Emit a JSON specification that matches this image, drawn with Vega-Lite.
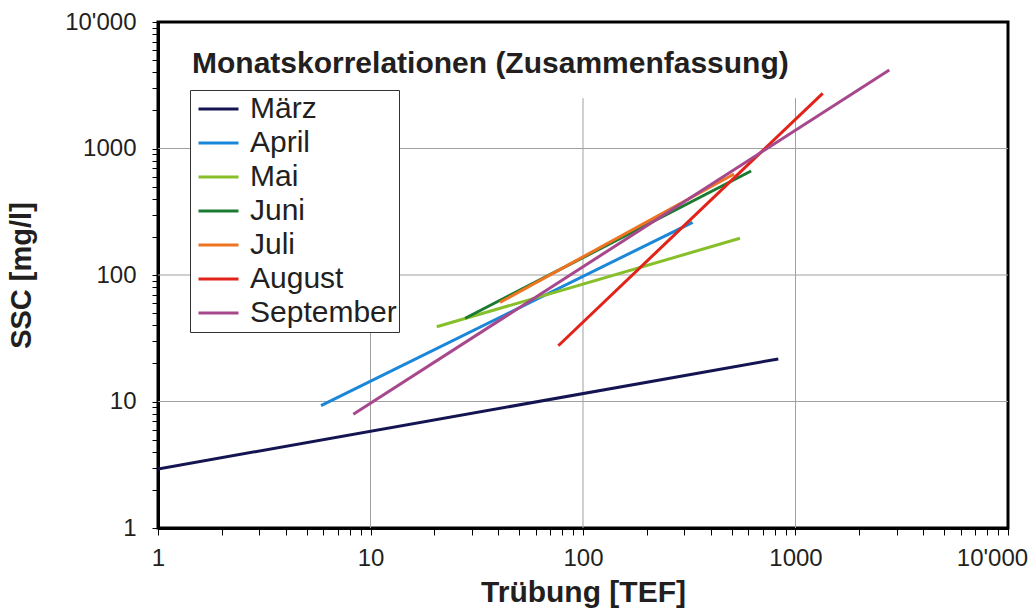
{
  "$schema": "https://vega.github.io/schema/vega-lite/v6.json",
  "width": 850,
  "height": 506,
  "autosize": {"type": "none"},
  "padding": {"left": 158, "top": 22, "right": 25, "bottom": 84},
  "background": "white",
  "config": {
    "view": {"stroke": "#000000", "strokeWidth": 3},
    "font": "Liberation Sans"
  },
  "title": {
    "text": "Monatskorrelationen (Zusammenfassung)",
    "anchor": "start",
    "frame": "group",
    "orient": "top",
    "offset": 0,
    "baseline": "alphabetic",
    "dx": 34,
    "dy": 93,
    "font": "Liberation Sans",
    "fontSize": 30,
    "fontWeight": "bold",
    "color": "#231f20"
  },
  "datasets": {
    "grid": [
      {"tef": 10, "tef2": 10, "ssc": 1, "ssc2": 2500},
      {"tef": 100, "tef2": 100, "ssc": 1, "ssc2": 2500},
      {"tef": 1000, "tef2": 1000, "ssc": 1, "ssc2": 2500},
      {"tef": 1, "tef2": 10000, "ssc": 10, "ssc2": 10},
      {"tef": 1, "tef2": 10000, "ssc": 100, "ssc2": 100},
      {"tef": 1, "tef2": 10000, "ssc": 1000, "ssc2": 1000}
    ],
    "lines": [
      {"monat": "März", "tef": 1, "ssc": 2.93},
      {"monat": "März", "tef": 830, "ssc": 21.7},
      {"monat": "April", "tef": 5.85, "ssc": 9.27},
      {"monat": "April", "tef": 328, "ssc": 261},
      {"monat": "Mai", "tef": 20.5, "ssc": 39.0},
      {"monat": "Mai", "tef": 548, "ssc": 195},
      {"monat": "Juni", "tef": 27.9, "ssc": 45.5},
      {"monat": "Juni", "tef": 618, "ssc": 664},
      {"monat": "Juli", "tef": 40.7, "ssc": 60.8},
      {"monat": "Juli", "tef": 514, "ssc": 629},
      {"monat": "August", "tef": 76.5, "ssc": 27.6},
      {"monat": "August", "tef": 1343, "ssc": 2730},
      {"monat": "September", "tef": 8.3, "ssc": 7.92},
      {"monat": "September", "tef": 2763, "ssc": 4175}
    ]
  },
  "layer": [
    {
      "data": {"name": "grid"},
      "mark": {"type": "rule", "color": "#a0a0a0", "strokeWidth": 1},
      "encoding": {
        "x": {
          "field": "tef", "type": "quantitative",
          "scale": {"type": "log", "domain": [1, 10000], "nice": false},
          "axis": {
            "title": "Trübung [TEF]",
            "values": [1,2,3,4,5,6,7,8,9,10,20,30,40,50,60,70,80,90,100,200,300,400,500,600,700,800,900,1000,2000,3000,4000,5000,6000,7000,8000,9000,10000],
            "format": "d",
            "labelExpr": "datum.value == 10000 ? \"10'000\" : (indexof([1, 10, 100, 1000], datum.value) >= 0 ? datum.label : '')",
            "grid": false,
            "domain": true, "domainColor": "#000000", "domainWidth": 3,
            "ticks": true, "tickColor": "#000000", "tickWidth": 1, "tickSize": 7,
            "labelFont": "Liberation Sans", "labelFontSize": 24, "labelColor": "#231f20", "labelPadding": 11,
            "labelOffset": {"condition": {"test": "datum.value == 10000", "value": -16}, "value": 0},
            "labelOverlap": false, "labelFlush": false,
            "titleFont": "Liberation Sans", "titleFontSize": 30, "titleFontWeight": "bold", "titleColor": "#231f20",
            "titleBaseline": "alphabetic", "titleY": 73, "titleX": 425, "titleAlign": "center"
          }
        },
        "x2": {"field": "tef2"},
        "y": {
          "field": "ssc", "type": "quantitative",
          "scale": {"type": "log", "domain": [1, 10000], "nice": false},
          "axis": {
            "title": "SSC [mg/l]",
            "values": [1,2,3,4,5,6,7,8,9,10,20,30,40,50,60,70,80,90,100,200,300,400,500,600,700,800,900,1000,2000,3000,4000,5000,6000,7000,8000,9000,10000],
            "format": "d",
            "labelExpr": "datum.value == 10000 ? \"10'000\" : (indexof([1, 10, 100, 1000], datum.value) >= 0 ? datum.label : '')",
            "grid": false,
            "domain": true, "domainColor": "#000000", "domainWidth": 3,
            "ticks": true, "tickColor": "#000000", "tickWidth": 1, "tickSize": 6,
            "labelFont": "Liberation Sans", "labelFontSize": 24, "labelColor": "#231f20", "labelPadding": 16,
            "labelOverlap": false, "labelFlush": false,
            "titleFont": "Liberation Sans", "titleFontSize": 29, "titleFontWeight": "bold", "titleColor": "#231f20",
            "titleBaseline": "alphabetic", "titleX": -128, "titleY": 253, "titleAlign": "center", "titleAngle": -90
          }
        },
        "y2": {"field": "ssc2"}
      }
    },
    {
      "data": {"name": "lines"},
      "mark": {"type": "line", "strokeWidth": 3, "clip": true},
      "encoding": {
        "x": {"field": "tef", "type": "quantitative", "scale": {"type": "log", "domain": [1, 10000], "nice": false}},
        "y": {"field": "ssc", "type": "quantitative", "scale": {"type": "log", "domain": [1, 10000], "nice": false}},
        "color": {
          "field": "monat", "type": "nominal",
          "scale": {
            "domain": ["März", "April", "Mai", "Juni", "Juli", "August", "September"],
            "range": ["#141452", "#1a87d9", "#86bf2a", "#1a7a32", "#ee7421", "#e2231a", "#a8488c"]
          },
          "legend": {
            "orient": "none", "legendX": 32, "legendY": 68, "title": null,
            "fillColor": "white", "strokeColor": "#333333", "padding": 2,
            "symbolType": "stroke", "symbolSize": 1600, "symbolStrokeWidth": 3, "symbolOffset": 5,
            "labelFont": "Liberation Sans", "labelFontSize": 30, "labelColor": "#231f20",
            "labelOffset": 10, "labelLimit": 300, "clipHeight": 34, "rowPadding": 0
          }
        }
      }
    }
  ]
}
